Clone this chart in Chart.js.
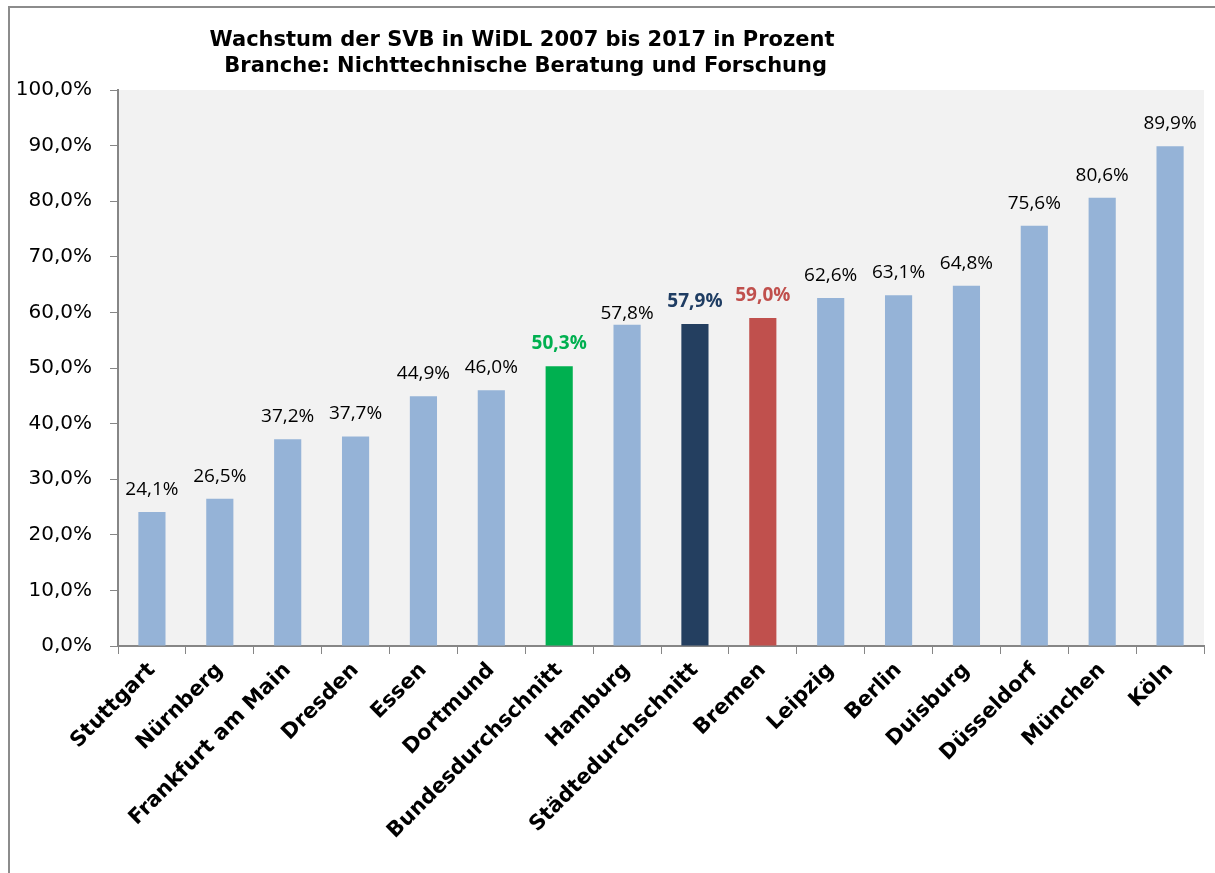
<!DOCTYPE html>
<html>
<head>
<meta charset="utf-8">
<script src="https://cdn.jsdelivr.net/npm/chart.js@4/dist/chart.umd.min.js"></script>
<style>
  html, body { margin: 0; padding: 0; background: #fff; }
  #wrap { position: relative; width: 1215px; height: 873px; }
</style>
</head>
<body>
<div id="wrap"><canvas id="chart"></canvas></div>
<script>
const categories = ['Stuttgart', 'Nürnberg', 'Frankfurt am Main', 'Dresden', 'Essen', 'Dortmund',
  'Bundesdurchschnitt', 'Hamburg', 'Städtedurchschnitt', 'Bremen', 'Leipzig', 'Berlin',
  'Duisburg', 'Düsseldorf', 'München', 'Köln'];
const growth = [24.1, 26.5, 37.2, 37.7, 44.9, 46.0, 50.3, 57.8, 57.9, 59.0, 62.6, 63.1, 64.8, 75.6, 80.6, 89.9];
const titleLines = ['Wachstum der SVB in WiDL 2007 bis 2017 in Prozent', ' Branche: Nichttechnische Beratung und Forschung'];

// highlighted bars
const highlight = {
  'Bundesdurchschnitt': '#00b050',
  'Städtedurchschnitt': '#243f60',
  'Bremen': '#c0504d'
};
const labelColor = {
  'Bundesdurchschnitt': '#00b050',
  'Städtedurchschnitt': '#1f3d63',
  'Bremen': '#c0504d'
};

const fmt = v => v.toFixed(1).replace('.', ',') + '%';

const decor = {
  id: 'decor',
  beforeDraw(chart) {
    const { ctx, chartArea: a } = chart;
    ctx.save();
    ctx.fillStyle = '#f2f2f2';
    ctx.fillRect(a.left, a.top, a.right - a.left, a.bottom - a.top);
    // outer frame
    ctx.strokeStyle = '#8c8c8c';
    ctx.lineWidth = 2;
    ctx.beginPath();
    ctx.moveTo(9, 873);
    ctx.lineTo(9, 7);
    ctx.lineTo(1215, 7);
    ctx.stroke();
    // title
    ctx.fillStyle = '#000';
    ctx.font = 'bold 21px "DejaVu Sans"';
    ctx.textAlign = 'center';
    ctx.textBaseline = 'middle';
    ctx.fillText(titleLines[0], 522, 41);
    ctx.fillText(titleLines[1], 522, 67);
    ctx.restore();
  },
  afterDatasetsDraw(chart) {
    const { ctx } = chart;
    const meta = chart.getDatasetMeta(0);
    ctx.save();
    ctx.textAlign = 'center';
    ctx.textBaseline = 'alphabetic';
    meta.data.forEach((bar, i) => {
      const c = categories[i];
      const special = labelColor[c];
      ctx.font = (special ? 'bold ' : '') + '19px "Open Sans"';
      ctx.fillStyle = special || '#000';
      // Hamburg's label sits closer to its bar in the original
      const gap = c === 'Hamburg' ? 6 : 17;
      ctx.fillText(fmt(growth[i]), bar.x, bar.y - gap);
    });
    ctx.restore();
  }
};

new Chart(document.getElementById('chart'), {
  type: 'bar',
  data: {
    labels: categories,
    datasets: [{
      data: growth,
      backgroundColor: categories.map(c => highlight[c] || '#95b3d7'),
      barPercentage: 0.4,
      categoryPercentage: 1
    }]
  },
  options: {
    responsive: true,
    maintainAspectRatio: false,
    animation: false,
    layout: { padding: { top: 90, right: 11, left: 0, bottom: 0 } },
    plugins: {
      legend: { display: false },
      tooltip: { enabled: false },
      title: { display: false }
    },
    scales: {
      x: {
        grid: { display: true, drawOnChartArea: false, tickLength: 8, color: '#868686', offset: true },
        border: { color: '#868686', width: 2 },
        ticks: {
          color: '#000',
          font: { family: '"DejaVu Sans"', size: 21, weight: 'bold' },
          maxRotation: 45,
          minRotation: 45,
          autoSkip: false,
          padding: 4
        },
        afterFit(scale) { scale.height = 873 - 646; }
      },
      y: {
        min: 0,
        max: 100,
        ticks: {
          stepSize: 10,
          color: '#000',
          font: { family: '"DejaVu Sans"', size: 20 },
          padding: 18,
          callback: v => v.toFixed(1).replace('.', ',') + '%'
        },
        grid: { display: true, drawOnChartArea: false, tickLength: 8, color: '#868686' },
        border: { color: '#868686', width: 2 },
        afterFit(scale) { scale.width = 118; }
      }
    }
  },
  plugins: [decor]
});
</script>
</body>
</html>
